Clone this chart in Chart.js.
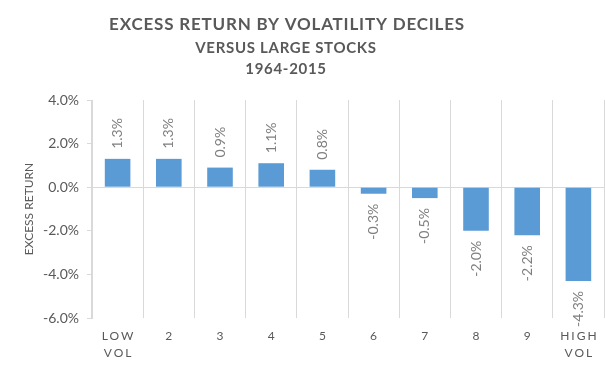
<!DOCTYPE html>
<html>
<head>
<meta charset="utf-8">
<script src="https://cdn.jsdelivr.net/npm/chart.js@4/dist/chart.umd.min.js"></script>
<style>
  body { margin: 0; background: #fff; }
  #grafico { display: block; }
</style>
</head>
<body>
<canvas id="grafico" width="605" height="368"></canvas>
<script>
var decili = [['LOW', 'VOL'], '2', '3', '4', '5', '6', '7', '8', '9', ['HIGH', 'VOL']];
var rendimenti = [1.3, 1.3, 0.9, 1.1, 0.8, -0.3, -0.5, -2.0, -2.2, -4.3];
var titoli = ['EXCESS RETURN BY VOLATILITY DECILES', 'VERSUS LARGE STOCKS', '1964-2015'];
var tickY = [-6, -4, -2, 0, 2, 4];

var FONT = 'Lato, "Open Sans", sans-serif';
var GRIGIO = '#595959';
var LINEA = '#d9d9d9';

// etichette ruotate sopra/sotto le barre + spaziatura lettere per l'asse x
var pluginEtichette = {
    id: 'etichette',
    beforeDraw: function (chart) {
        chart.ctx.letterSpacing = '0px';
    },
    afterDatasetsDraw: function (chart) {
        var ctx = chart.ctx;
        var meta = chart.getDatasetMeta(0);
        ctx.save();
        ctx.font = '14px ' + FONT;
        ctx.fillStyle = '#7f7f7f';
        ctx.textBaseline = 'middle';
        for (var i = 0; i < meta.data.length; i++) {
            var barra = meta.data[i];
            var valore = rendimenti[i];
            var testo = valore.toFixed(1) + '%';
            ctx.save();
            if (valore >= 0) {
                ctx.translate(barra.x, barra.y - 10);
                ctx.rotate(-Math.PI / 2);
                ctx.textAlign = 'left';
            } else {
                ctx.translate(barra.x, barra.y + 10);
                ctx.rotate(-Math.PI / 2);
                ctx.textAlign = 'right';
            }
            ctx.fillText(testo, 0, 0);
            ctx.restore();
        }
        ctx.restore();
        // lo spazio tra le lettere vale per le etichette dell'asse x (disegnate dopo)
        ctx.letterSpacing = '2px';
        ctx.translate(1, 0);
    },
    afterDraw: function (chart) {
        var ctx = chart.ctx;
        ctx.translate(-1, 0);
        ctx.letterSpacing = '0px';
        ctx.save();
        ctx.fillStyle = GRIGIO;
        ctx.textAlign = 'center';
        ctx.textBaseline = 'middle';
        ctx.font = 'bold 17px ' + FONT;
        ctx.letterSpacing = '0.8px';
        ctx.fillText(titoli[0], 287, 25);
        ctx.font = 'bold 15px ' + FONT;
        ctx.letterSpacing = '0.7px';
        ctx.fillText(titoli[1], 286, 48);
        ctx.fillText(titoli[2], 286, 69);
        ctx.letterSpacing = '0px';
        ctx.restore();
    }
};

var grafico = new Chart(document.getElementById('grafico'), {
    type: 'bar',
    data: {
        labels: decili,
        datasets: [{
            data: rendimenti,
            backgroundColor: '#5b9bd5',
            barPercentage: 0.5,
            categoryPercentage: 1
        }]
    },
    options: {
        responsive: false,
        animation: false,
        layout: { padding: { top: 100, right: 1, bottom: 0, left: 0 } },
        plugins: {
            legend: { display: false },
            tooltip: { enabled: false }
        },
        scales: {
            x: {
                offset: true,
                afterFit: function (scala) { scala.height = 50; },
                grid: { color: LINEA, drawTicks: false, offset: true },
                border: { display: false },
                ticks: { z: 1, color: GRIGIO, font: { family: FONT, size: 12, lineHeight: 1.4 }, padding: 10 }
            },
            y: {
                min: -6,
                max: 4,
                afterFit: function (scala) { scala.width = 92; },
                afterBuildTicks: function (scala) {
                    scala.ticks = tickY.map(function (v) { return { value: v }; });
                },
                grid: {
                    color: function (c) { return c.tick && c.tick.value === 0 ? LINEA : 'rgba(0,0,0,0)'; },
                    tickColor: LINEA,
                    tickLength: 5
                },
                border: { display: true, color: LINEA },
                ticks: {
                    color: GRIGIO,
                    font: { family: FONT, size: 14 },
                    padding: 8,
                    callback: function (v) { return v.toFixed(1) + '%'; }
                },
                title: {
                    display: true,
                    text: 'EXCESS RETURN',
                    color: GRIGIO,
                    font: { family: FONT, size: 12 },
                    padding: { top: 22, bottom: 0 }
                }
            }
        }
    },
    plugins: [pluginEtichette]
});
</script>
</body>
</html>
